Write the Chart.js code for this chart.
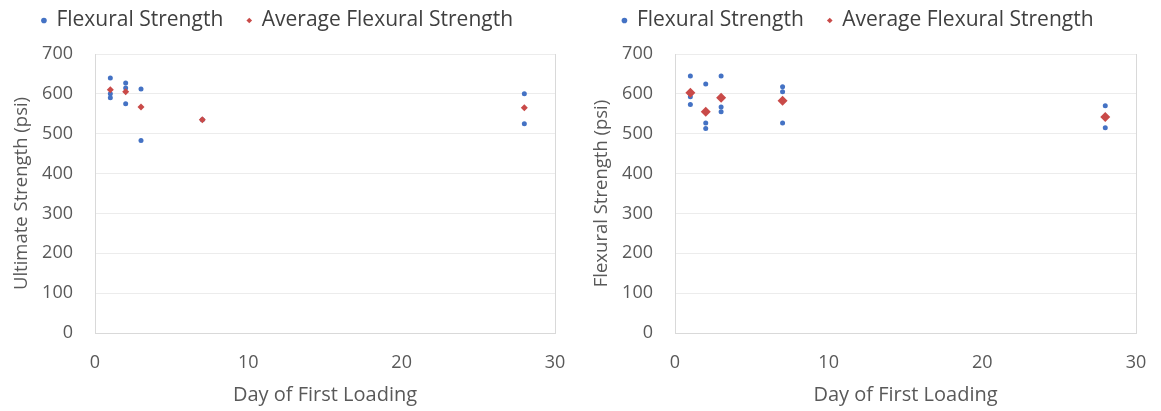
<!DOCTYPE html>
<html>
<head>
<meta charset="utf-8">
<script src="https://cdn.jsdelivr.net/npm/chart.js@4"></script>
<style>
  body { margin: 0; background: #fff; }
  .wrap { position: absolute; top: 0; width: 580px; height: 411px; }
</style>
</head>
<body>
<div class="wrap" style="left:0"><canvas id="myChart1"></canvas></div>
<div class="wrap" style="left:580px;width:581px"><canvas id="myChart2"></canvas></div>
<script>
// data
var leftFlexDays = [1, 1, 1, 2, 2, 2, 3, 3, 7, 28, 28];
var leftFlexVals = [640, 600, 590, 627, 615, 575, 612, 483, 535, 600, 525];
var leftAvgDays = [1, 2, 3, 7, 28];
var leftAvgVals = [610, 605, 567, 535, 565];

var rightFlexDays = [1, 1, 1, 2, 2, 2, 3, 3, 3, 7, 7, 7, 28, 28];
var rightFlexVals = [645, 593, 573, 625, 527, 513, 645, 567, 555, 618, 605, 527, 570, 515];
var rightAvgDays = [1, 2, 3, 7, 28];
var rightAvgVals = [603, 555, 590, 583, 542];

var xTicks = [0, 10, 20, 30];
var yTicks = [0, 100, 200, 300, 400, 500, 600, 700];

function pts(xs, ys) {
  return xs.map(function (x, i) { return { x: x, y: ys[i] }; });
}

var font = 'Open Sans';
var txt = '#595959';

function makeChart(id, title, flexDays, flexVals, avgDays, avgVals, avgRadius) {
  var ctx = document.getElementById(id).getContext('2d');
  return new Chart(ctx, {
    type: 'scatter',
    data: {
      datasets: [{
        label: 'Flexural Strength',
        data: pts(flexDays, flexVals),
        pointStyle: 'circle',
        pointRadius: 2.5,
        backgroundColor: '#4472C4',
        borderColor: '#4472C4',
        borderWidth: 0,
        order: 2
      }, {
        label: 'Average Flexural Strength',
        data: pts(avgDays, avgVals),
        pointStyle: 'rectRot',
        pointRadius: avgRadius,
        backgroundColor: '#C94A48',
        borderColor: '#C94A48',
        borderWidth: 0,
        order: 1
      }]
    },
    options: {
      responsive: true,
      maintainAspectRatio: false,
      animation: false,
      layout: { padding: { top: -14, right: 25, left: 0, bottom: 0 } },
      plugins: {
        legend: {
          position: 'top',
          labels: {
            usePointStyle: true,
            boxWidth: 4,
            boxHeight: 4,
            padding: 24,
            color: '#404040',
            font: { family: font, size: 21 },
            sort: function (a, b) { return a.datasetIndex - b.datasetIndex; }
          }
        },
        tooltip: { enabled: false }
      },
      scales: {
        x: {
          type: 'linear',
          min: 0,
          max: 30,
          afterBuildTicks: function (s) { s.ticks = xTicks.map(function (v) { return { value: v }; }); },
          afterFit: function (s) { s.height = 78; s.paddingLeft = 0; s.paddingRight = 0; },
          grid: { display: false, drawTicks: false },
          border: { color: '#d9d9d9' },
          ticks: { color: txt, font: { family: font, size: 18 }, padding: 19 },
          title: { display: true, text: 'Day of First Loading', color: txt, font: { family: font, size: 20 }, padding: { top: 0 } }
        },
        y: {
          min: 0,
          max: 700,
          afterBuildTicks: function (s) { s.ticks = yTicks.map(function (v) { return { value: v }; }); },
          afterFit: function (s) { s.width = 95; },
          grid: { color: '#ececec', drawTicks: false },
          border: { color: '#d9d9d9' },
          ticks: { color: txt, font: { family: font, size: 18 }, padding: 22 },
          title: { display: true, text: title, color: txt, font: { family: font, size: 18.5 }, padding: { top: 11, bottom: 0 } }
        }
      }
    },
    plugins: [{
      id: 'legendGap',
      beforeInit: function (c) {
        var fit = c.legend.fit;
        c.legend.fit = function () {
          fit.call(this);
          this.height += 13;
        };
      }
    }, {
      id: 'frame',
      afterDraw: function (c) {
        var a = c.chartArea, g = c.ctx;
        g.save();
        g.strokeStyle = '#d9d9d9';
        g.lineWidth = 1;
        g.beginPath();
        g.moveTo(a.right + 0.5, a.top);
        g.lineTo(a.right + 0.5, a.bottom);
        g.stroke();
        g.restore();
      }
    }]
  });
}

makeChart('myChart1', 'Ultimate Strength (psi)', leftFlexDays, leftFlexVals, leftAvgDays, leftAvgVals, 3.5);
makeChart('myChart2', 'Flexural Strength (psi)', rightFlexDays, rightFlexVals, rightAvgDays, rightAvgVals, 5);
</script>
</body>
</html>
